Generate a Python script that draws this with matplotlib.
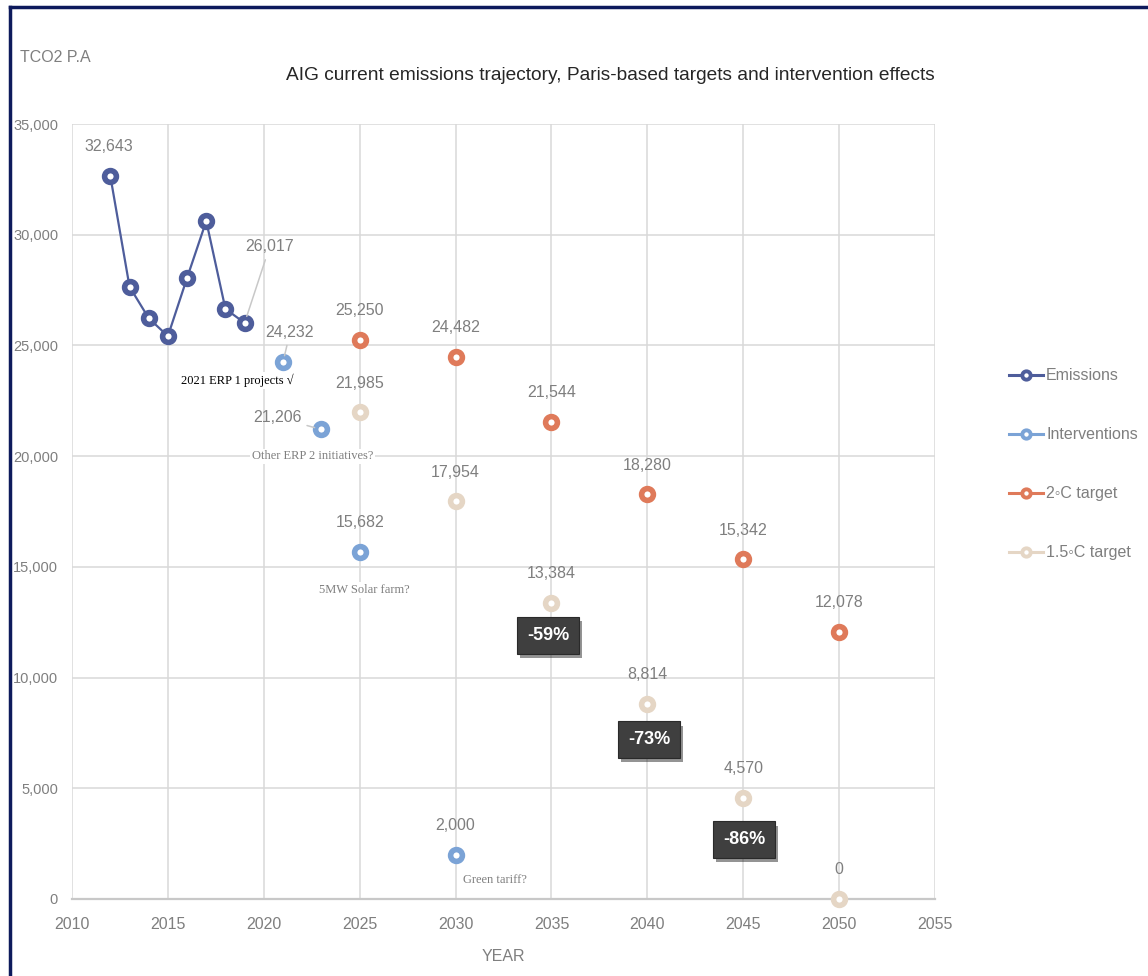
import matplotlib
matplotlib.use("Agg")
import matplotlib.pyplot as plt
import matplotlib.patheffects as pe
from matplotlib.lines import Line2D
from matplotlib.ticker import FuncFormatter

# data
em_years = [2012, 2013, 2014, 2015, 2016, 2017, 2018, 2019]
em_vals = [32643, 27650, 26230, 25420, 28050, 30620, 26650, 26017]

int_years = [2021, 2023, 2025, 2030]
int_vals = [24232, 21206, 15682, 2000]
int_notes = ["2021 ERP 1 projects \u221a", "Other ERP 2 initiatives?", "5MW Solar farm?", "Green tariff?"]

t2_years = [2025, 2030, 2035, 2040, 2045, 2050]
t2_vals = [25250, 24482, 21544, 18280, 15342, 12078]

t15_years = [2025, 2030, 2035, 2040, 2045, 2050]
t15_vals = [21985, 17954, 13384, 8814, 4570, 0]

pct_years = [2035, 2040, 2045]

SANS = ["Liberation Sans", "DejaVu Sans"]
SERIF = ["Liberation Serif", "DejaVu Serif"]
GREY = "#7F7F7F"
FS = 11.5

c_em = "#4E5D9B"
c_int = "#7BA3D6"
c_t2 = "#DF7A5A"
c_t15 = "#E5D6C5"

plt.rcParams["font.family"] = SANS

fig = plt.figure(figsize=(11.48, 9.76), dpi=100)
ax = fig.add_axes([72 / 1148, 1 - 899 / 976, (935 - 72) / 1148, (899 - 124) / 976])

mk = dict(marker="o", markersize=8.5, markeredgewidth=4, markerfacecolor="white", zorder=5, clip_on=False)

ax.plot(em_years, em_vals, color=c_em, lw=1.6, markeredgecolor=c_em, **mk)
ax.plot(int_years, int_vals, ls="none", markeredgecolor=c_int, **mk)
ax.plot(t2_years, t2_vals, ls="none", markeredgecolor=c_t2, **mk)
ax.plot(t15_years, t15_vals, ls="none", markeredgecolor=c_t15, **mk)

ax.set_xlim(2010, 2055)
ax.set_ylim(0, 35000)
ax.set_xticks(range(2010, 2056, 5))
ax.set_yticks(range(0, 35001, 5000))
ax.yaxis.set_major_formatter(FuncFormatter(lambda v, p: f"{int(v):,}"))
ax.grid(True, color="#D9D9D9", lw=1.1, zorder=0)
ax.set_axisbelow(True)
for s in ["top", "right", "left"]:
    ax.spines[s].set_visible(False)
ax.spines["bottom"].set_color("#C8C8C8")
ax.spines["bottom"].set_linewidth(1.6)
ax.tick_params(length=0, labelsize=FS, colors=GREY)
ax.tick_params(axis="y", pad=10, labelsize=10.5)
ax.tick_params(axis="x", pad=13)
ax.set_xlabel("YEAR", fontsize=FS, color=GREY, labelpad=12)


def lab(x, y, dx=0, dy=29, leader=False):
    kw = {}
    if leader:
        kw["arrowprops"] = dict(arrowstyle="-", color="#C8C8C8", lw=1.1, shrinkA=2, shrinkB=5)
    ax.annotate(f"{y:,}", (x, y), xytext=(dx, dy), textcoords="offset pixels",
                ha="center", va="center", fontsize=FS, color=GREY, zorder=6,
                annotation_clip=False, **kw)


# emissions: only first and last labelled
lab(em_years[0], em_vals[0], -2, 30)
lab(em_years[-1], em_vals[-1], 25, 76, leader=True)

lab(int_years[0], int_vals[0], 7, 30, leader=True)
lab(int_years[1], int_vals[1], -44, 12, leader=True)
lab(int_years[2], int_vals[2])
lab(int_years[3], int_vals[3])

for x, y in zip(t2_years, t2_vals):
    lab(x, y)
for x, y in zip(t15_years, t15_vals):
    lab(x, y)

# intervention notes
note_offsets = [(-46, -18), (-9, -27), (5, -38), (39, -25)]
for x, y, txt, (dx, dy), col in zip(int_years, int_vals, int_notes, note_offsets,
                                     ["black", GREY, GREY, GREY]):
    ax.annotate(txt, (x, y), xytext=(dx, dy), textcoords="offset pixels",
                ha="center", va="center", fontsize=9, color=col, family=SERIF, zorder=6,
                bbox=dict(boxstyle="square,pad=0.15", fc="white", ec="none"))

# reduction boxes against 2012 baseline
base = em_vals[0]
pct_offsets = [(-3, -33), (2, -36), (1, -42)]
for yr, (dx, dy) in zip(pct_years, pct_offsets):
    v = t15_vals[t15_years.index(yr)]
    pct = -round((1 - v / base) * 100)
    t = ax.annotate(f"{pct}%", (yr, v), xytext=(dx, dy), textcoords="offset pixels",
                    ha="center", va="center", fontsize=13, color="white", weight="bold",
                    zorder=7,
                    bbox=dict(boxstyle="square,pad=0.55", fc="#3F3F3F", ec="#2A2A2A", lw=0.8))
    t.get_bbox_patch().set_path_effects([pe.SimplePatchShadow(offset=(2, -3), alpha=0.45), pe.Normal()])

# legend
handles = [
    Line2D([], [], color=c, lw=2.2, markeredgecolor=c, marker="o", markersize=6,
           markeredgewidth=2.8, markerfacecolor="white")
    for c in [c_em, c_int, c_t2, c_t15]
]
leg = fig.legend(handles, ["Emissions", "Interventions", "2\u25e6C target", "1.5\u25e6C target"],
                 loc="upper left", bbox_to_anchor=(1003 / 1148, 1 - 362 / 976), frameon=False,
                 fontsize=FS, labelspacing=2.75, handlelength=2.1, handletextpad=0.2,
                 borderaxespad=0)
for txt in leg.get_texts():
    txt.set_color(GREY)

fig.text(610 / 1148, 1 - 75 / 976,
         "AIG current emissions trajectory, Paris-based targets and intervention effects",
         ha="center", va="center", fontsize=13.8, color="#262626")
fig.text(20 / 1148, 1 - 57 / 976, "TCO2 P.A", ha="left", va="center", fontsize=FS,
         color=GREY)

# navy frame on top and left edges
fig.add_artist(Line2D([10 / 1148, 1], [1 - 7 / 976, 1 - 7 / 976], color="#0D1A5C", lw=2.5))
fig.add_artist(Line2D([10 / 1148, 10 / 1148], [0, 1 - 7 / 976], color="#0D1A5C", lw=2.5))

fig.savefig("out.png", dpi=100, facecolor="white")
